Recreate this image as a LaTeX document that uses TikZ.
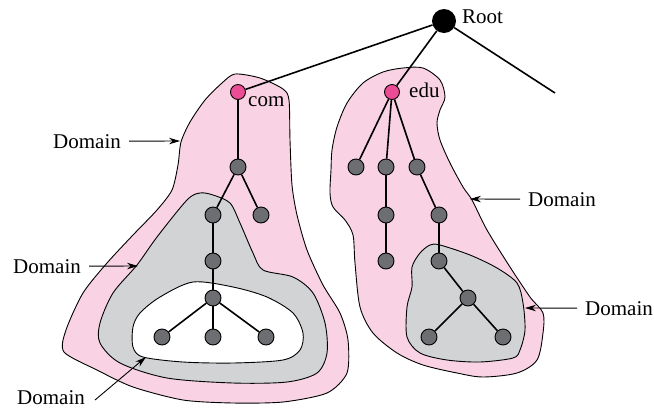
\documentclass[tikz,border=0pt]{standalone}
\usepackage{fontspec}
\setmainfont{Liberation Serif}
\usetikzlibrary{arrows.meta}
\definecolor{dpink}{HTML}{F9D3E4}
\definecolor{dgray}{HTML}{D1D3D4}
\definecolor{ngray}{HTML}{6D6E71}
\definecolor{npink}{HTML}{EC4C95}
\tikzset{
  domainline/.style={draw=black, line width=0.9pt},
  treeedge/.style={line width=1.6pt},
  gnode/.style={circle, draw=black, line width=0.9pt, fill=ngray, minimum size=16pt, inner sep=0pt},
  pnode/.style={circle, draw=black, line width=0.9pt, fill=npink, minimum size=15pt, inner sep=0pt},
  rnode/.style={circle, fill=black, minimum size=24pt, inner sep=0pt},
  lbl/.style={inner sep=0pt, font=\fontsize{21}{25}\selectfont},
  arr/.style={line width=0.9pt, -{Stealth[length=11pt,width=6.5pt]}},
}
\begin{document}
\begin{tikzpicture}[x=1pt,y=-1pt]
\useasboundingbox (0,0) rectangle (654,408);
% left pink domain
\draw[domainline, fill=dpink] plot[smooth cycle, tension=0.45] coordinates {
 (235,74) (260,78) (283,89) (289,100) (290,140) (292,185) (297,215) (307,250) (323,285) (340,313) (348,340) (347,373) (327,393) (283,402) (233,403) (183,400) (133,387) (97,370) (64,352) (66,330) (83,293) (107,263) (133,235) (157,210) (172,190) (178,165) (181,142) (190,122) (205,100) (222,83)};
% right pink domain
\draw[domainline, fill=dpink] plot[smooth cycle, tension=0.5] coordinates {
 (403,68) (423,68) (440,80) (445,97) (440,110) (437,123) (440,140) (450,163) (463,187) (472,200) (487,230) (510,267) (530,297) (543,313) (543,333) (537,360) (517,373) (483,377) (457,373) (423,365) (397,353) (373,333) (360,307) (355,263) (353,235) (345,220) (333,207) (330,193) (331,170) (332,150) (337,127) (347,103) (363,83) (383,72)};
% left gray domain
\draw[domainline, fill=dgray] plot[smooth cycle, tension=0.5] coordinates {
 (213,195) (230,203) (240,223) (253,253) (263,270) (293,277) (313,293) (325,323) (327,353) (317,373) (287,382) (233,383) (167,378) (120,363) (100,343) (100,323) (113,293) (137,265) (157,237) (187,200) (200,193)};
% white domain
\draw[domainline, fill=white] plot[smooth cycle, tension=0.5] coordinates {
 (193,282) (233,287) (267,297) (293,313) (303,333) (300,350) (283,360) (233,363) (183,362) (143,357) (133,347) (133,327) (140,313) (160,297)};
% right gray domain
\draw[domainline, fill=dgray] plot[smooth cycle, tension=0.5] coordinates {
 (430,245) (440,245) (470,255) (497,268) (517,283) (523,303) (525,330) (520,350) (513,358) (480,362) (447,360) (420,353) (407,337) (407,307) (412,287) (412,267) (420,253)};

% nodes
\node[rnode] (root) at (444,21) {};
\node[pnode] (com) at (238,92) {};
\node[pnode] (edu) at (392,92) {};
\node[gnode] (c1) at (238,167) {};
\node[gnode] (c2) at (213,215) {};
\node[gnode] (c3) at (261,215) {};
\node[gnode] (c4) at (213,261) {};
\node[gnode] (c5) at (213,298) {};
\node[gnode] (c6) at (162,337) {};
\node[gnode] (c7) at (213,337) {};
\node[gnode] (c8) at (266,337) {};
\node[gnode] (e1) at (356,167) {};
\node[gnode] (e2) at (386,167) {};
\node[gnode] (e3) at (417,167) {};
\node[gnode] (e4) at (386,215) {};
\node[gnode] (e5) at (386,261) {};
\node[gnode] (e6) at (439,215) {};
\node[gnode] (e7) at (439,261) {};
\node[gnode] (e8) at (468,298) {};
\node[gnode] (e9) at (429,337) {};
\node[gnode] (e10) at (503,337) {};
\coordinate (rend) at (555,93);

% edges
\draw[treeedge] (root) -- (com);
\draw[treeedge] (root) -- (edu);
\draw[treeedge] (root) -- (rend);
\draw[treeedge] (com) -- (c1);
\draw[treeedge] (c1) -- (c2);
\draw[treeedge] (c1) -- (c3);
\draw[treeedge] (c2) -- (c4);
\draw[treeedge] (c4) -- (c5);
\draw[treeedge] (c5) -- (c6);
\draw[treeedge] (c5) -- (c7);
\draw[treeedge] (c5) -- (c8);
\draw[treeedge] (edu) -- (e1);
\draw[treeedge] (edu) -- (e2);
\draw[treeedge] (edu) -- (e3);
\draw[treeedge] (e2) -- (e4);
\draw[treeedge] (e4) -- (e5);
\draw[treeedge] (e3) -- (e6);
\draw[treeedge] (e6) -- (e7);
\draw[treeedge] (e7) -- (e8);
\draw[treeedge] (e8) -- (e9);
\draw[treeedge] (e8) -- (e10);

% labels
\node[lbl, anchor=base west] (rootl) at (462,23) {Root};
\node[lbl, anchor=base west] (coml) at (248,106) {com};
\node[lbl, anchor=base west] (edul) at (409,97) {edu};
\node[lbl, anchor=base west] (d1) at (53,148) {Domain};
\node[lbl, anchor=base west] (d2) at (13,273) {Domain};
\node[lbl, anchor=base west] (d3) at (17,404) {Domain};
\node[lbl, anchor=base west] (d4) at (528,206) {Domain};
\node[lbl, anchor=base west] (d5) at (585,315) {Domain};

\coordinate (t1) at (180,141);
\coordinate (t2) at (138,266);
\coordinate (s3) at (95,400);
\coordinate (t3) at (146,357);
\coordinate (t4) at (470,199);
\coordinate (t5) at (525,308);
\draw[arr] ([xshift=8pt]d1.east) -- (t1);
\draw[arr] ([xshift=8pt]d2.east) -- (t2);
\draw[arr] (s3) -- (t3);
\draw[arr] ([xshift=-8pt]d4.west) -- (t4);
\draw[arr] ([xshift=-8pt]d5.west) -- (t5);
\end{tikzpicture}
\end{document}
